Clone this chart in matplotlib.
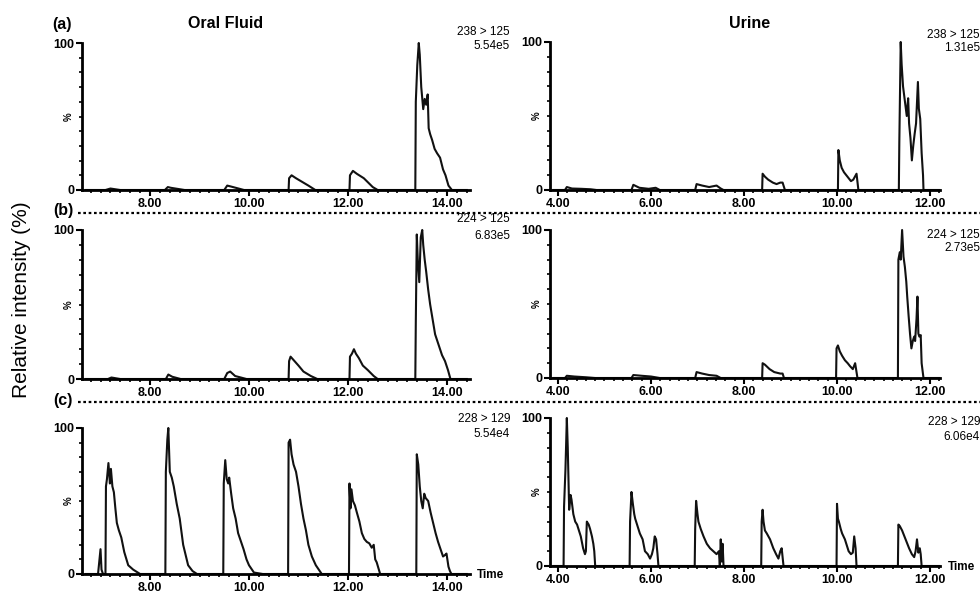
import matplotlib
matplotlib.use('Agg')
import matplotlib.pyplot as plt
from matplotlib.ticker import MultipleLocator, FormatStrFormatter

plt.rcParams['font.family'] = ['Liberation Sans', 'DejaVu Sans']

#%% data (time in min, intensity in %)

# oral fluid, (a) 238 > 125
oral_a_t = [6.70, 7.10, 7.20, 7.40, 8.30, 8.36, 8.42, 8.70, 9.50, 9.56, 9.62, 9.90,
            10.80, 10.81, 10.86, 10.95, 11.05, 11.20, 11.34,
            12.03, 12.04, 12.10, 12.18, 12.32, 12.50, 12.60,
            13.36, 13.37, 13.40, 13.43, 13.45, 13.48, 13.52, 13.55, 13.58, 13.61, 13.63,
            13.66, 13.70, 13.75, 13.80, 13.86, 13.92, 13.97, 14.03, 14.10, 14.40]
oral_a_y = [0, 0, 1, 0, 0, 2, 1.5, 0, 0, 3, 2.5, 0,
            0, 8, 10, 8, 6, 3, 0,
            0, 10, 13, 11, 8, 2, 0,
            0, 60, 85, 100, 92, 70, 55, 62, 58, 65, 42,
            38, 34, 28, 25, 22, 14, 10, 3, 0, 0]

# oral fluid, (b) 224 > 125
oral_b_t = [6.70, 7.15, 7.22, 7.40, 8.32, 8.37, 8.45, 8.62, 9.50, 9.56, 9.62, 9.72, 9.95,
            10.80, 10.81, 10.84, 10.92, 11.00, 11.10, 11.25, 11.38,
            12.03, 12.04, 12.08, 12.12, 12.16, 12.22, 12.30, 12.40, 12.52, 12.60,
            13.36, 13.37, 13.39, 13.41, 13.44, 13.47, 13.50, 13.52, 13.55, 13.58, 13.62,
            13.66, 13.70, 13.76, 13.82, 13.90, 13.96, 14.02, 14.07, 14.40]
oral_b_y = [0, 0, 1, 0, 0, 3, 1.5, 0, 0, 4, 5, 2, 0,
            0, 12, 15, 12, 9, 5, 2, 0,
            0, 15, 17, 20, 17, 14, 9, 6, 2, 0,
            0, 38, 97, 80, 65, 95, 100, 90, 80, 72, 60,
            50, 42, 30, 24, 16, 12, 6, 0, 0]

# oral fluid, (c) 228 > 129
oral_c_t = [6.70, 6.95, 7.00, 7.02, 7.05, 7.10, 7.11, 7.13, 7.16, 7.19, 7.21, 7.24, 7.27,
            7.30, 7.33, 7.37, 7.42, 7.48, 7.56, 7.66, 7.80,
            8.31, 8.32, 8.35, 8.37, 8.40, 8.44, 8.48, 8.54, 8.60, 8.67, 8.77, 8.86, 8.95,
            9.48, 9.49, 9.52, 9.55, 9.58, 9.60, 9.64, 9.68, 9.73, 9.78, 9.84, 9.89, 9.95,
            10.00, 10.10, 10.28,
            10.79, 10.80, 10.83, 10.86, 10.90, 10.95, 11.00, 11.05, 11.10, 11.15, 11.20,
            11.27, 11.35, 11.47,
            12.02, 12.03, 12.05, 12.07, 12.10, 12.14, 12.18, 12.23, 12.28, 12.33, 12.38,
            12.43, 12.48, 12.52, 12.55, 12.58, 12.65,
            13.38, 13.39, 13.42, 13.45, 13.48, 13.51, 13.54, 13.57, 13.62, 13.67, 13.72,
            13.77, 13.82, 13.87, 13.92, 13.96, 13.99, 14.03, 14.06, 14.09, 14.40]
oral_c_y = [0, 0, 17, 3, 0, 0, 60, 65, 76, 62, 72, 60, 56,
            45, 35, 30, 25, 15, 6, 3, 0,
            0, 70, 92, 100, 70, 66, 60, 48, 38, 20, 6, 2, 0,
            0, 62, 78, 65, 62, 66, 55, 45, 38, 28, 22, 17, 10,
            6, 1, 0,
            0, 90, 92, 82, 75, 70, 60, 48, 38, 30, 20,
            12, 6, 0,
            0, 62, 45, 58, 50, 47, 42, 36, 28, 24, 22,
            21, 18, 20, 10, 8, 0,
            0, 82, 75, 60, 50, 45, 55, 52, 50, 42, 35,
            28, 22, 17, 12, 13, 14, 5, 2, 0, 0]

# urine, (a) 238 > 125
urine_a_t = [3.90, 4.15, 4.19, 4.30, 4.50, 4.70, 4.83, 5.58, 5.62, 5.75, 5.95, 6.10, 6.19,
             6.95, 6.98, 7.10, 7.25, 7.41, 7.50, 7.56,
             8.39, 8.40, 8.45, 8.52, 8.62, 8.70, 8.78, 8.83, 8.88,
             10.02, 10.03, 10.06, 10.10, 10.15, 10.25, 10.30, 10.35, 10.42, 10.46,
             11.33, 11.34, 11.37, 11.39, 11.42, 11.46, 11.50, 11.53, 11.55, 11.58, 11.61,
             11.64, 11.67, 11.70, 11.74, 11.76, 11.79, 11.82, 11.85, 11.86, 12.20]
urine_a_y = [0, 0, 2, 1, 0.8, 0.5, 0, 0, 3.5, 1.5, 0.8, 1.5, 0,
             0, 4, 3, 2, 3, 1, 0,
             0, 11, 9, 7, 5, 4, 5, 5, 0,
             0, 27, 20, 15, 12, 8, 6, 7, 11, 0,
             0, 32, 100, 85, 70, 60, 50, 62, 45, 35, 20,
             30, 38, 45, 73, 55, 48, 25, 10, 0, 0]

# urine, (b) 224 > 125
urine_b_t = [3.90, 4.15, 4.19, 4.35, 4.60, 4.80, 5.58, 5.62, 5.80, 6.00, 6.19,
             6.95, 6.98, 7.10, 7.25, 7.41, 7.50,
             8.39, 8.40, 8.45, 8.55, 8.65, 8.78, 8.83, 8.86,
             9.98, 9.99, 10.02, 10.06, 10.11, 10.17, 10.23, 10.28, 10.34, 10.39, 10.42, 10.44,
             11.31, 11.32, 11.35, 11.37, 11.40, 11.43, 11.46, 11.49, 11.51, 11.54, 11.57,
             11.60, 11.63, 11.66, 11.68, 11.71, 11.73, 11.75, 11.77, 11.80, 11.82, 11.86, 12.20]
urine_b_y = [0, 0, 1.5, 1, 0.5, 0, 0, 2, 1.5, 1, 0,
             0, 4, 3, 2, 1.5, 0,
             0, 10, 9, 6, 4, 3, 3, 0,
             0, 20, 22, 18, 15, 12, 10, 8, 6, 10, 4, 0,
             0, 80, 85, 80, 100, 82, 75, 65, 55, 42, 30,
             20, 25, 28, 25, 40, 55, 30, 28, 29, 10, 0, 0]

# urine, (c) 228 > 129
urine_c_t = [3.90, 4.12, 4.13, 4.16, 4.19, 4.21, 4.24, 4.27, 4.29, 4.33, 4.37, 4.41, 4.44,
             4.49, 4.54, 4.58, 4.60, 4.62, 4.66, 4.69, 4.73, 4.76, 4.78, 4.80,
             5.54, 5.55, 5.58, 5.61, 5.64, 5.66, 5.70, 5.76, 5.82, 5.87, 5.93, 5.98, 6.02,
             6.05, 6.08, 6.11, 6.14, 6.16,
             6.94, 6.95, 6.97, 7.00, 7.02, 7.07, 7.13, 7.20, 7.27, 7.34, 7.41, 7.46, 7.48,
             7.50, 7.52, 7.54, 7.56,
             8.37, 8.38, 8.40, 8.42, 8.45, 8.49, 8.56, 8.63, 8.69, 8.74, 8.78, 8.81, 8.85,
             9.99, 10.00, 10.02, 10.04, 10.08, 10.11, 10.17, 10.25, 10.30, 10.34, 10.37,
             10.40, 10.42,
             11.31, 11.32, 11.35, 11.40, 11.45, 11.50, 11.55, 11.61, 11.66, 11.69, 11.72,
             11.75, 11.78, 11.80, 11.82, 12.20]
urine_c_y = [0, 0, 40, 65, 100, 80, 38, 48, 45, 35, 30, 28, 25,
             20, 12, 8, 10, 30, 28, 25, 20, 15, 10, 0,
             0, 30, 50, 42, 35, 32, 28, 22, 18, 10, 8, 5, 8,
             12, 20, 18, 8, 0,
             0, 25, 44, 35, 30, 25, 20, 15, 12, 10, 8, 10, 0,
             18, 3, 15, 0,
             0, 30, 38, 30, 24, 22, 18, 12, 8, 5, 10, 12, 0,
             0, 42, 32, 30, 25, 22, 18, 10, 8, 9, 20,
             12, 0,
             0, 28, 27, 24, 20, 16, 12, 8, 6, 10, 18,
             9, 12, 8, 0, 0]

oral_ticks = [8, 10, 12, 14]
urine_ticks = [4, 6, 8, 10, 12]
transitions = ['238 > 125', '224 > 125', '228 > 129']
oral_max = ['5.54e5', '6.83e5', '5.54e4']
urine_max = ['1.31e5', '2.73e5', '6.06e4']

#%% layout in pixels of the original 980x597 picture
W, H = 980., 597.

def px(x, y):
    return x / W, 1 - y / H

fig = plt.figure(figsize=(9.8, 5.97), dpi=100)

# (x_left, x_right, y_of_100, y_of_0)
oral_box = [(82, 470, 43, 190), (82, 470, 230, 379), (82, 470, 428, 574)]
urine_box = [(550, 940, 42, 190), (550, 940, 230, 378), (550, 940, 418, 566)]

oral_data = [(oral_a_t, oral_a_y), (oral_b_t, oral_b_y), (oral_c_t, oral_c_y)]
urine_data = [(urine_a_t, urine_a_y), (urine_b_t, urine_b_y), (urine_c_t, urine_c_y)]


def chrom_panel(box, t, y, xlim, ticks):
    x0, x1, ytop, ybot = box
    ax = fig.add_axes([x0 / W, 1 - ybot / H, (x1 - x0) / W, (ybot - ytop) / H])
    ax.plot(t, y, color='#111111', lw=1.5, clip_on=False)
    ax.set_xlim(xlim)
    ax.set_ylim(0, 100)
    for s in ['top', 'right']:
        ax.spines[s].set_visible(False)
    for s in ['left', 'bottom']:
        ax.spines[s].set_linewidth(2)
    ax.set_xticks(ticks)
    ax.xaxis.set_major_formatter(FormatStrFormatter('%.2f'))
    ax.xaxis.set_minor_locator(MultipleLocator(0.2))
    ax.set_yticks([0, 100])
    ax.yaxis.set_minor_locator(MultipleLocator(10))
    ax.tick_params(which='major', direction='out', length=4, width=1.5, pad=1.5,
                   labelsize=9)
    ax.tick_params(which='minor', direction='out', length=2.5, width=1.2)
    for lab in ax.get_xticklabels() + ax.get_yticklabels():
        lab.set_fontweight('bold')
    ax.text(-0.035, 0.5, '%', rotation=90, transform=ax.transAxes, fontsize=7,
            fontweight='bold', ha='center', va='center')
    ax.patch.set_alpha(0)
    return ax


for i in range(3):
    chrom_panel(oral_box[i], oral_data[i][0], oral_data[i][1], (6.626, 14.465), oral_ticks)
    chrom_panel(urine_box[i], urine_data[i][0], urine_data[i][1], (3.828, 12.215), urine_ticks)

#%% labels, transitions and separators
lab_kw = dict(fontsize=8.5, ha='right', va='center')
oral_txt_y = [(32, 46), (219, 236), (419, 434)]
urine_txt_y = [(35, 48), (235, 248), (422, 437)]
for i in range(3):
    fig.text(*px(510, oral_txt_y[i][0]), transitions[i], **lab_kw)
    fig.text(*px(510, oral_txt_y[i][1]), oral_max[i], **lab_kw)
    fig.text(*px(980, urine_txt_y[i][0]), transitions[i], **lab_kw)
    fig.text(*px(980, urine_txt_y[i][1]), urine_max[i], **lab_kw)

fig.text(*px(62, 25), '(a)', fontsize=11.5, fontweight='bold', ha='center', va='center')
fig.text(*px(63, 211), '(b)', fontsize=11.5, fontweight='bold', ha='center', va='center')
fig.text(*px(63, 400), '(c)', fontsize=11.5, fontweight='bold', ha='center', va='center')
fig.text(*px(226, 23), 'Oral Fluid', fontsize=11.5, fontweight='bold', ha='center', va='center')
fig.text(*px(750, 23), 'Urine', fontsize=11.5, fontweight='bold', ha='center', va='center')

fig.text(*px(490, 575), 'Time', fontsize=8.5, fontweight='bold', ha='center', va='center')
fig.text(*px(961, 567), 'Time', fontsize=8.5, fontweight='bold', ha='center', va='center')

fig.text(*px(22, 300), 'Relative intensity (%)', fontsize=15, rotation=90,
         ha='center', va='center')

for yy in [213, 402]:
    fig.add_artist(plt.Line2D([78 / W, 1], [1 - yy / H, 1 - yy / H], color='black',
                              lw=1.6, linestyle=(0, (1.2, 1.2))))

fig.savefig('out.png', dpi=100)
